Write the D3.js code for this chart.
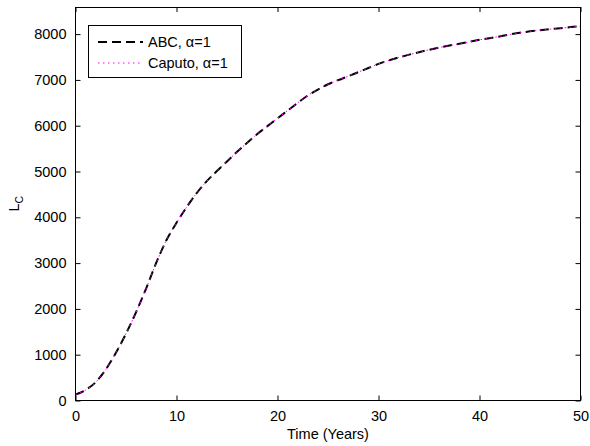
<!DOCTYPE html>
<html><head><meta charset="utf-8">
<script src="https://cdn.jsdelivr.net/npm/d3@7"></script>
<style>body{margin:0;background:#fff;} text{font-family:"Liberation Sans",Arial,sans-serif;}</style>
</head><body>
<svg id="c" width="590" height="446"></svg>
<script>
const time = [0,1,2,3,4,5,6,7,8,9,10,11,12,13,14,15,16,17,18,19,20,21,22,23,24,25,26,27,28,29,30,32,34,36,38,40,42,44,46,48,50];
const abc = [130,230,400,680,1040,1460,1930,2450,3010,3500,3880,4220,4530,4790,5010,5220,5430,5630,5820,5990,6160,6330,6500,6660,6790,6905,6995,7080,7170,7260,7350,7490,7605,7705,7790,7875,7950,8030,8085,8130,8175];
const caputo = abc.slice();
const xTicks = [0,10,20,30,40,50];
const yTicks = [0,1000,2000,3000,4000,5000,6000,7000,8000];
const seriesNames = ["ABC, \u03b1=1","Caputo, \u03b1=1"];

const L=75.5, R=580.5, T=7, B=400.5;
const svg = d3.select("#c");
const x = d3.scaleLinear().domain([0,50]).range([L,R]);
const y = d3.scaleLinear().domain([0,8592]).range([B,T]);
const fs = "14.5px";

// lines
const line = d3.line().curve(d3.curveMonotoneX).x((d,i)=>x(time[i])).y(d=>y(d));
svg.append("path").datum(abc).attr("d",line).attr("fill","none")
  .attr("stroke","#000").attr("stroke-width",2).attr("stroke-dasharray","9,5");
svg.append("path").datum(caputo).attr("d",line).attr("fill","none")
  .attr("stroke","#ff00ff").attr("stroke-width",1).attr("stroke-dasharray","1.5,3.5");

// axes
const ax = svg.append("g").attr("transform",`translate(0,${B})`)
  .call(d3.axisBottom(x).tickValues(xTicks).tickSize(-5).tickPadding(10).tickFormat(d3.format("d")));
const axT = svg.append("g").attr("transform",`translate(0,${T})`)
  .call(d3.axisTop(x).tickValues(xTicks).tickSize(-5).tickFormat(""));
const ay = svg.append("g").attr("transform",`translate(${L},0)`)
  .call(d3.axisLeft(y).tickValues(yTicks).tickSize(-5).tickPadding(9).tickFormat(d3.format("d")));
const ayR = svg.append("g").attr("transform",`translate(${R},0)`)
  .call(d3.axisRight(y).tickValues(yTicks).tickSize(-5).tickFormat(""));
[ax,axT,ay,ayR].forEach(g=>{
  g.select(".domain").remove();
  g.selectAll("line").attr("stroke","#000");
  g.selectAll("text").attr("fill","#000").style("font-size",fs).style("font-family","'Liberation Sans',Arial,sans-serif");
});
svg.append("rect").attr("x",L).attr("y",T+0.5).attr("width",R-L).attr("height",B-T-0.5)
  .attr("fill","none").attr("stroke","#000").attr("stroke-width",1);

// labels
svg.append("text").attr("x",(L+R)/2).attr("y",439).attr("text-anchor","middle")
  .style("font-size",fs).text("Time (Years)");
const yl = svg.append("text").attr("transform",`translate(19,${(T+B)/2}) rotate(-90)`)
  .attr("text-anchor","middle").style("font-size",fs);
yl.append("tspan").text("L");
yl.append("tspan").attr("dy",4).style("font-size","10.5px").text("C");

// legend
const lg = svg.append("g");
lg.append("rect").attr("x",88.5).attr("y",25.5).attr("width",153).attr("height",52)
  .attr("fill","#fff").attr("stroke","#000").attr("stroke-width",1);
const rows=[42,63];
const styles=[{c:"#000",w:2,d:"9,5"},{c:"#ff00ff",w:1,d:"1.5,3.5"}];
seriesNames.forEach((n,i)=>{
  lg.append("line").attr("x1",98).attr("x2",143).attr("y1",rows[i]).attr("y2",rows[i])
    .attr("stroke",styles[i].c).attr("stroke-width",styles[i].w).attr("stroke-dasharray",styles[i].d);
  lg.append("text").attr("x",148).attr("y",rows[i]+5).style("font-size",fs).text(n);
});
</script>
</body></html>
